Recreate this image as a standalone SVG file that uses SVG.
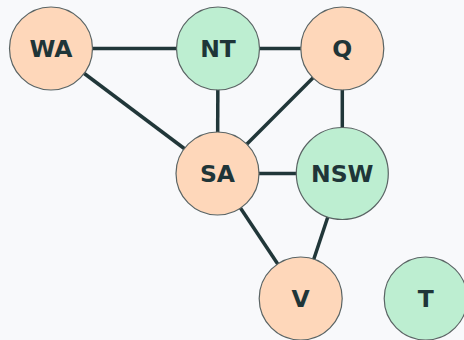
<svg xmlns="http://www.w3.org/2000/svg" width="464" height="340" viewBox="0 0 464 340">
  <style>
    .edge { stroke: #213739; stroke-width: 3.5; stroke-linecap: butt; }
    .node circle { stroke: #5a6464; stroke-width: 1.2; }
    .red circle { fill: #fed7ba; }
    .green circle { fill: #bdeed1; }
    .node text { font-family: "DejaVu Sans", "Liberation Sans", sans-serif; font-weight: 700; font-size: 23.5px; fill: #1f3538; text-anchor: middle; }
  </style>
  <rect width="464" height="340" fill="#f8f9fb"/>
  <g id="edges">
    <line class="edge" x1="51" y1="48.5" x2="218" y2="48.5"/>
    <line class="edge" x1="51" y1="48.5" x2="217.5" y2="173.5"/>
    <line class="edge" x1="218" y1="48.5" x2="342.3" y2="48.5"/>
    <line class="edge" x1="218" y1="48.5" x2="217.5" y2="173.5"/>
    <line class="edge" x1="342.3" y1="48.5" x2="217.5" y2="173.5"/>
    <line class="edge" x1="342.3" y1="48.5" x2="342.3" y2="173.5"/>
    <line class="edge" x1="217.5" y1="173.5" x2="342.3" y2="173.5"/>
    <line class="edge" x1="217.5" y1="173.5" x2="300.7" y2="298.5"/>
    <line class="edge" x1="342.3" y1="173.5" x2="300.7" y2="298.5"/>
  </g>
  <g id="WA" class="node red">
    <circle cx="51" cy="48.5" r="41.5"/>
    <text x="51" y="57.3">WA</text>
  </g>
  <g id="NT" class="node green">
    <circle cx="218" cy="48.5" r="41.5"/>
    <text x="218" y="57.3">NT</text>
  </g>
  <g id="Q" class="node red">
    <circle cx="342.3" cy="48.5" r="41.5"/>
    <text x="342.3" y="57.3">Q</text>
  </g>
  <g id="SA" class="node red">
    <circle cx="217.5" cy="173.5" r="41.5"/>
    <text x="217.5" y="182.3">SA</text>
  </g>
  <g id="NSW" class="node green">
    <circle cx="342.3" cy="173.5" r="46"/>
    <text x="342.3" y="182.3">NSW</text>
  </g>
  <g id="V" class="node red">
    <circle cx="300.7" cy="298.5" r="41.5"/>
    <text x="300.7" y="307.3">V</text>
  </g>
  <g id="T" class="node green">
    <circle cx="425.7" cy="298.5" r="41.5"/>
    <text x="425.7" y="307.3">T</text>
  </g>
</svg>
